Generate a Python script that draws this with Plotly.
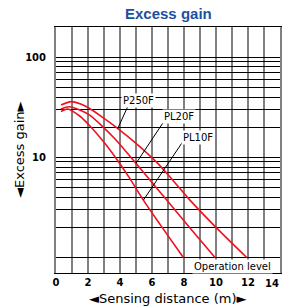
import numpy as np
import plotly.graph_objects as go

# ---- data ----
chart_title = "Excess gain"
x_title = "◄Sensing distance (m)►"
y_title = "◄Excess gain►"

series_names = ["P250F", "PL20F", "PL10F"]

p250f_x = [0.31, 0.94, 1.5, 2.08, 3.0, 3.85, 5.0, 6.3, 7.3, 8.3, 10.0, 11.92]
p250f_y = [33.3, 36.0, 34.3, 30.9, 24.5, 19.5, 13.8, 8.9, 5.9, 3.85, 2.0, 1.0]

pl20f_x = [0.31, 0.83, 1.45, 2.08, 2.9, 3.75, 5.0, 6.0, 6.92, 8.4, 9.94]
pl20f_y = [30.4, 32.0, 29.9, 26.5, 20.4, 14.9, 8.7, 5.6, 3.74, 1.95, 1.0]

pl10f_x = [0.31, 0.73, 1.5, 2.08, 3.0, 3.85, 4.6, 5.46, 6.5, 7.96]
pl10f_y = [28.6, 30.4, 25.7, 20.9, 14.1, 9.3, 6.2, 3.74, 2.14, 1.0]

# label positions (data units) and leader-line end points
label_x = [5.13, 7.66, 8.875]
label_y = [36.6, 25.5, 15.6]
leader_from_x = [4.48, 6.67, 7.92]
leader_from_y = [32.0, 21.9, 14.3]
leader_to_x = [3.86, 5.0, 5.47]
leader_to_y = [19.4, 8.7, 3.75]

x_tick_vals = list(range(0, 15))
x_tick_text = [str(v) if v % 2 == 0 and v < 14 else "" for v in x_tick_vals]
y_tick_vals = [1, 2, 3, 4, 5, 6, 7, 8, 9, 10, 20, 30, 40, 50, 60, 70, 80, 90, 100]
y_tick_text = ["10" if v == 10 else "100" if v == 100 else "" for v in y_tick_vals]

operation_level = 1.0
operation_label = "Operation level"
operation_line_start = 3
x_range = [0, 14]
y_range_vals = [0.7, 200]

RED = "#f01020"
TICKFONT = dict(family="DejaVu Sans", size=10, color="#000")

fig = go.Figure()

for xs, ys in [(p250f_x, p250f_y), (pl20f_x, pl20f_y), (pl10f_x, pl10f_y)]:
    fig.add_trace(go.Scatter(x=xs, y=ys, mode="lines",
                             line=dict(color=RED, width=1.6, shape="spline", smoothing=0.8),
                             hoverinfo="skip", showlegend=False))

for i in range(3):
    fig.add_trace(go.Scatter(x=[leader_from_x[i], leader_to_x[i]],
                             y=[leader_from_y[i], leader_to_y[i]], mode="lines",
                             line=dict(color="#000", width=1),
                             hoverinfo="skip", showlegend=False))

for i, name in enumerate(series_names):
    fig.add_annotation(x=label_x[i], y=np.log10(label_y[i]), xref="x", yref="y",
                       text=name, showarrow=False, bgcolor="white", borderpad=1,
                       font=dict(family="DejaVu Sans", size=10, color="#000"))

# operation level
fig.add_shape(type="line", xref="x", yref="y",
              x0=operation_line_start, x1=x_range[1],
              y0=np.log10(operation_level), y1=np.log10(operation_level),
              line=dict(color="#000", width=2))
fig.add_annotation(x=11.06, y=np.log10(0.82), xref="x", yref="y",
                   text=operation_label, showarrow=False, bgcolor="white", borderpad=1,
                   font=dict(family="DejaVu Sans", size=10, color="#000"))

# last x tick label, kept inside the picture
fig.add_annotation(x=x_range[1], y=0, xref="x", yref="paper", yanchor="top",
                   xanchor="right", yshift=-3, xshift=1, text="<b>14</b>", showarrow=False,
                   font=TICKFONT)

# titles
fig.add_annotation(x=0.5, y=1, xref="paper", yref="paper", yanchor="bottom",
                   yshift=3, text="<b>" + chart_title + "</b>", showarrow=False,
                   font=dict(family="Liberation Sans, Arial", size=15, color="#1e50a0"))
fig.add_annotation(x=0.5, y=0, xref="paper", yref="paper", yanchor="top",
                   yshift=-16, text=x_title, showarrow=False,
                   font=dict(family="DejaVu Sans", size=13, color="#000"))
fig.add_annotation(x=0, y=0.5, xref="paper", yref="paper", xanchor="center",
                   xshift=-37, text=y_title, textangle=-90, showarrow=False,
                   font=dict(family="DejaVu Sans", size=13, color="#000"))

fig.update_layout(
    width=284, height=308,
    margin=dict(l=56, r=4, t=27, b=35),
    paper_bgcolor="white", plot_bgcolor="white",
    xaxis=dict(range=x_range, tickvals=x_tick_vals,
               ticktext=["<b>%s</b>" % t if t else "" for t in x_tick_text],
               showgrid=True, gridcolor="#808080", gridwidth=2, zeroline=False,
               showline=True, linecolor="#000", linewidth=1, mirror=True,
               ticks="", tickfont=TICKFONT, automargin=False),
    yaxis=dict(type="log", range=[np.log10(y_range_vals[0]), np.log10(y_range_vals[1])],
               tickvals=y_tick_vals,
               ticktext=["<b>%s</b>" % t if t else "" for t in y_tick_text],
               showgrid=True, gridcolor="#000", gridwidth=1, zeroline=False,
               showline=True, linecolor="#808080", linewidth=2, mirror=True,
               ticks="", tickfont=TICKFONT, ticklabelstandoff=6, automargin=False),
)

fig.write_html("out.html", config={"displayModeBar": False},
               post_script="document.body.style.margin='0';document.body.style.overflow='hidden';")
